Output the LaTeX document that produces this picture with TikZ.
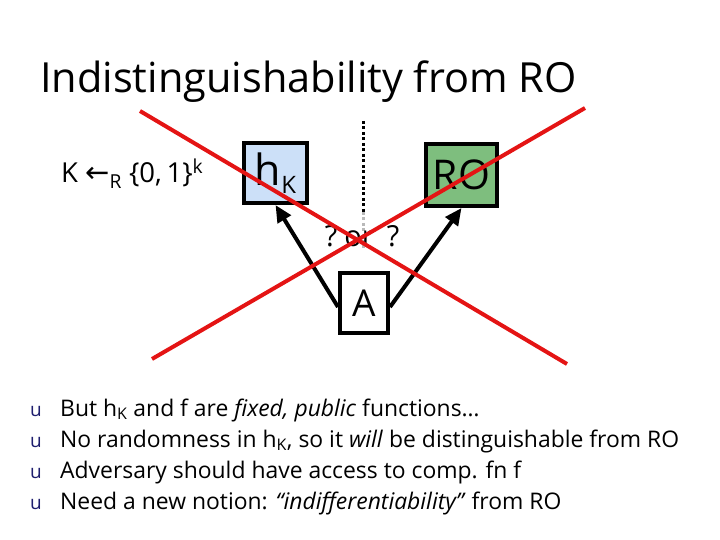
\documentclass[tikz,border=0pt]{standalone}
\usepackage{fontspec}
\setmainfont{Open Sans}
\newfontfamily\symfont{DejaVu Sans}
\usetikzlibrary{arrows.meta}
\definecolor{hkblue}{RGB}{204,224,248}
\definecolor{rogreen}{RGB}{126,190,126}
\definecolor{xred}{RGB}{228,20,20}
\definecolor{bulletblue}{RGB}{30,30,110}
\tikzset{
  fbox/.style={draw=black, line width=4pt, inner sep=0pt, minimum width=#1},
  conn/.style={line width=4pt, -{Triangle[length=17pt,width=15pt]}},
  xline/.style={draw=xred, line width=4pt},
  txt/.style={anchor=base west, inner sep=0pt},
  bul/.style={anchor=base west, inner sep=0pt, text=bulletblue, font=\fontsize{19}{22}\selectfont},
  btxt/.style={anchor=base west, inner sep=0pt, font=\fontsize{22.9}{28}\selectfont},
  qtxt/.style={anchor=base, inner sep=0pt, font=\fontsize{29}{32}\selectfont}
}
\begin{document}
\begin{tikzpicture}[x=1pt,y=-1pt]
\useasboundingbox (0,0) rectangle (720,540);
\node[txt, font=\fontsize{41.5}{48}\selectfont] (title) at (40,93) {Indistinguishability from RO};
\node[txt, font=\fontsize{27.5}{32}\selectfont] (key) at (61,183) {K {\symfont\fontsize{29}{32}\selectfont ←}\textsubscript{R} \{0,\,1\}\textsuperscript{k}};
% dotted separator
\coordinate (dtop) at (363,121);
\coordinate (dmid) at (363,212);
\coordinate (dbot) at (363,249);
\draw[line width=3pt, dash pattern=on 3pt off 2.5pt] (dtop) -- (dmid);
\draw[line width=3pt, gray!55, dash pattern=on 3pt off 2.5pt] (dmid) -- (dbot);
% boxes
\node[fbox=63pt, minimum height=60pt, fill=hkblue, font=\fontsize{43}{46}\selectfont] (hK) at (275.5,173) {h\raisebox{-8pt}{\fontsize{24}{26}\selectfont K}\hspace{2pt}};
\node[fbox=71pt, minimum height=62pt, fill=rogreen, font=\fontsize{41}{44}\selectfont] (RO) at (461.5,175) {RO};
\node[fbox=48pt, minimum height=60pt, fill=white, font=\fontsize{37}{40}\selectfont] (A) at (364,303) {A};
% question
\node[qtxt] (q1) at (331,246) {?};
\node[qtxt] (or) at (359,246) {or};
\node[qtxt] (q2) at (393,246) {?};
% arrows
\draw[conn] ([yshift=-4pt]A.west) -- (hK.south);
\draw[conn] ([yshift=-4pt]A.east) -- (RO.south);
% cross out
\coordinate (x1a) at (140,111);
\coordinate (x1b) at (567,364);
\coordinate (x2a) at (152,359);
\coordinate (x2b) at (585,108);
\draw[xline] (x1a) -- (x1b);
\draw[xline] (x2a) -- (x2b);
% bullets
\node[bul] (b1) at (30,416) {u};
\node[bul] (b2) at (30,447) {u};
\node[bul] (b3) at (30,478) {u};
\node[bul] (b4) at (30,509) {u};
\node[btxt] (t1) at (60,416) {But h\textsubscript{K} and f are \textit{fixed, public} functions…};
\node[btxt] (t2) at (60,447) {No randomness in h\textsubscript{K}, so it \textit{will} be distinguishable from RO};
\node[btxt] (t3) at (60,478) {Adversary should have access to comp. fn f};
\node[btxt] (t4) at (60,509) {Need a new notion: \textit{“indifferentiability”} from RO};
\end{tikzpicture}
\end{document}
